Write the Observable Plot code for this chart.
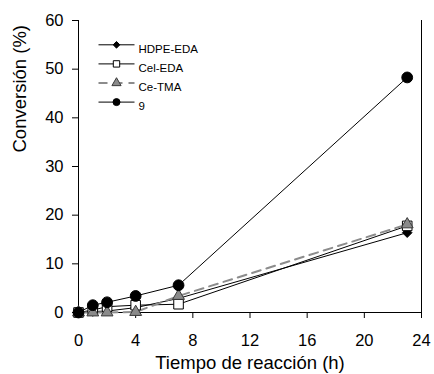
<!DOCTYPE html>
<html>
<head>
<meta charset="utf-8">
<script src="https://cdn.jsdelivr.net/npm/d3@7"></script>
<script src="https://cdn.jsdelivr.net/npm/@observablehq/plot@0.6"></script>
<style>
  html, body { margin: 0; padding: 0; background: #fff; }
  svg { font-family: Arial, "Liberation Sans", sans-serif; }
</style>
</head>
<body>
<div id="chart"></div>
<script>
// ---- data ----
const times = [0, 1, 2, 4, 7, 23];
const seriesNames = ["HDPE-EDA", "Cel-EDA", "Ce-TMA", "9"];
const hdpeEda = [0, 0.2, 0.3, 1.0, 2.9, 16.4];
const celEda  = [0, 0.5, 1.2, 1.5, 1.7, 17.8];
const ceTma   = [0, 0.0, 0.0, 0.1, 3.4, 18.1];
const s9      = [0, 1.5, 2.1, 3.4, 5.6, 48.3];
const xTicks = [0, 4, 8, 12, 16, 20, 24];
const yTicks = [0, 10, 20, 30, 40, 50, 60];
const xDomain = [0, 24];
const yDomain = [0, 60];
const xLabel = "Tiempo de reacción (h)";
const yLabel = "Conversión (%)";

// ---- styles ----
const diamond = {draw(ctx, size) { const r = Math.sqrt(size) * 0.62625; ctx.moveTo(0, -r); ctx.lineTo(r, 0); ctx.lineTo(0, r); ctx.lineTo(-r, 0); ctx.closePath(); }};
const seg = {draw(ctx) { ctx.moveTo(-18, 0); ctx.lineTo(18, 0); }};
const styles = {
  "HDPE-EDA": {symbol: diamond, r: 4.3, fill: "black", stroke: "black", lineStroke: "black", lineWidth: 1, dash: null, lr: 3},
  "Cel-EDA":  {symbol: "square", r: 5.4, fill: "white", stroke: "black", lineStroke: "black", lineWidth: 1, dash: null, lr: 3.6},
  "Ce-TMA":   {symbol: "triangle", r: 4.4, fill: "#8a8a8a", stroke: "#3a3a3a", lineStroke: "#8c8c8c", lineWidth: 2, dash: "9,6", lr: 3.4},
  "9":        {symbol: "circle", r: 5.4, fill: "black", stroke: "black", lineStroke: "black", lineWidth: 1, dash: null, lr: 3.5}
};
const values = {"HDPE-EDA": hdpeEda, "Cel-EDA": celEda, "Ce-TMA": ceTma, "9": s9};

const marks = [];
for (const name of seriesNames) {
  const st = styles[name];
  const data = times.map((t, i) => ({t, v: values[name][i]}));
  marks.push(Plot.line(data, {x: "t", y: "v", curve: "linear", stroke: st.lineStroke, strokeWidth: st.lineWidth, strokeDasharray: st.dash}));
}
for (const name of seriesNames) {
  const st = styles[name];
  const data = times.map((t, i) => ({t, v: values[name][i]}));
  marks.push(Plot.dot(data, {x: "t", y: "v", symbol: st.symbol, r: st.r, fill: st.fill, stroke: st.stroke, strokeWidth: 1}));
}
// legend
seriesNames.forEach((name, i) => {
  const st = styles[name];
  const dy = 24.3 + i * 19.1;
  marks.push(Plot.dot([name], {frameAnchor: "top-left", dx: 38, dy, symbol: seg, r: 1, fill: "none", stroke: st.lineStroke, strokeWidth: st.lineWidth, strokeDasharray: st.dash}));
  marks.push(Plot.dot([name], {frameAnchor: "top-left", dx: 38, dy, symbol: st.symbol, r: st.lr, fill: st.fill, stroke: st.stroke, strokeWidth: 1}));
  marks.push(Plot.text([name], {frameAnchor: "top-left", dx: 60, dy, text: d => d, textAnchor: "start", fontSize: 11.5, fill: "black"}));
});

const chart = Plot.plot({
  width: 434,
  height: 374,
  marginLeft: 78,
  marginRight: 13,
  marginTop: 20,
  marginBottom: 62,
  style: {fontFamily: "Arial, 'Liberation Sans', sans-serif", background: "white", color: "black"},
  x: {domain: xDomain},
  y: {domain: yDomain},
  marks: [
    Plot.axisX({ticks: xTicks, tickSize: 6, tickPadding: 16, fontSize: 16.5, label: null}),
    Plot.axisY({ticks: yTicks, tickSize: 6, tickPadding: 9, fontSize: 16.5, label: null}),
    Plot.text([xLabel], {frameAnchor: "bottom", dy: 51, text: d => d, lineAnchor: "middle", fontSize: 18.5, fill: "black"}),
    Plot.text([yLabel], {frameAnchor: "left", dx: -58, dy: -14, rotate: -90, text: d => d, lineAnchor: "middle", fontSize: 18.5, fill: "black"}),
    Plot.ruleX([xDomain[0]], {strokeWidth: 1}),
    Plot.ruleX([xDomain[1]], {strokeWidth: 1}),
    Plot.ruleY([yDomain[0]], {strokeWidth: 1}),
    ...marks
  ]
});
document.getElementById("chart").appendChild(chart);
</script>
</body>
</html>
